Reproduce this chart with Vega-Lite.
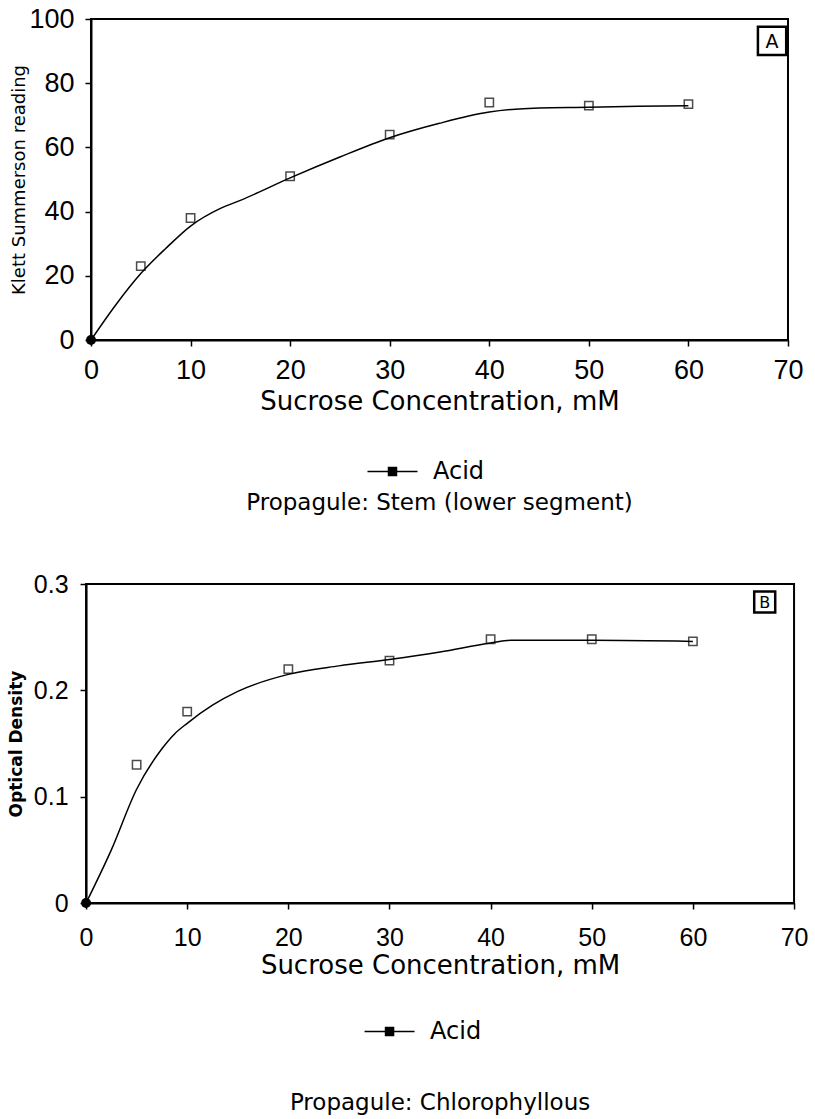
{
  "$schema": "https://vega.github.io/schema/vega-lite/v6.json",
  "background": "white",
  "padding": {"left": 6, "top": 4, "right": 2, "bottom": 2},
  "datasets": {
    "ptsA": [
      {"conc": 0, "reading": 0}, {"conc": 5, "reading": 23}, {"conc": 10, "reading": 38},
      {"conc": 20, "reading": 51}, {"conc": 30, "reading": 64}, {"conc": 40, "reading": 74},
      {"conc": 50, "reading": 73}, {"conc": 60, "reading": 73.5}
    ],
    "fitA": [
      {"conc": 0, "reading": 0, "series": "Acid"}, {"conc": 2.5, "reading": 11, "series": "Acid"},
      {"conc": 5, "reading": 20.7, "series": "Acid"}, {"conc": 7.5, "reading": 28.5, "series": "Acid"},
      {"conc": 10, "reading": 35.5, "series": "Acid"}, {"conc": 13, "reading": 41, "series": "Acid"},
      {"conc": 15, "reading": 43.5, "series": "Acid"}, {"conc": 20, "reading": 50.5, "series": "Acid"},
      {"conc": 25, "reading": 57, "series": "Acid"}, {"conc": 30, "reading": 63, "series": "Acid"},
      {"conc": 35, "reading": 67.5, "series": "Acid"}, {"conc": 40, "reading": 71, "series": "Acid"},
      {"conc": 45, "reading": 72.3, "series": "Acid"}, {"conc": 50, "reading": 72.5, "series": "Acid"},
      {"conc": 55, "reading": 72.8, "series": "Acid"}, {"conc": 60, "reading": 73, "series": "Acid"}
    ],
    "ptsB": [
      {"conc": 0, "od": 0}, {"conc": 5, "od": 0.13}, {"conc": 10, "od": 0.18},
      {"conc": 20, "od": 0.22}, {"conc": 30, "od": 0.228}, {"conc": 40, "od": 0.248},
      {"conc": 50, "od": 0.248}, {"conc": 60, "od": 0.246}
    ],
    "fitB": [
      {"conc": 0, "od": 0, "series": "Acid"}, {"conc": 2.5, "od": 0.05, "series": "Acid"},
      {"conc": 5, "od": 0.107, "series": "Acid"}, {"conc": 7.5, "od": 0.145, "series": "Acid"},
      {"conc": 8.75, "od": 0.159, "series": "Acid"}, {"conc": 10, "od": 0.169, "series": "Acid"},
      {"conc": 12.5, "od": 0.186, "series": "Acid"}, {"conc": 15, "od": 0.199, "series": "Acid"},
      {"conc": 20, "od": 0.215, "series": "Acid"}, {"conc": 25, "od": 0.223, "series": "Acid"},
      {"conc": 30, "od": 0.229, "series": "Acid"}, {"conc": 35, "od": 0.236, "series": "Acid"},
      {"conc": 40, "od": 0.2445, "series": "Acid"}, {"conc": 42, "od": 0.247, "series": "Acid"},
      {"conc": 50, "od": 0.247, "series": "Acid"}, {"conc": 60, "od": 0.246, "series": "Acid"}
    ],
    "tagA": [{"panel": "A"}],
    "tagB": [{"panel": "B"}]
  },
  "config": {
    "view": {"stroke": "black", "strokeWidth": 2},
    "font": "DejaVu Sans",
    "axis": {
      "grid": false,
      "domainColor": "black", "domainWidth": 2,
      "tickColor": "black", "tickWidth": 1.5, "tickSize": 6,
      "labelFont": "Liberation Sans", "labelColor": "black",
      "titleFont": "DejaVu Sans", "titleColor": "black", "titleFontWeight": "normal"
    },
    "legend": {
      "title": null,
      "labelFont": "DejaVu Sans", "labelFontSize": 24, "labelColor": "black",
      "symbolType": "M-1.5,0H1.5M-0.24,-0.24H0.24V0.24H-0.24Z",
      "symbolSize": 1111, "symbolStrokeWidth": 1.5, "labelOffset": 23,
      "symbolStrokeColor": "black", "symbolFillColor": "black"
    },
    "title": {"font": "DejaVu Sans", "fontSize": 23, "fontWeight": "normal", "color": "black"}
  },
  "resolve": {"scale": {"color": "independent"}, "legend": {"color": "independent"}},
  "center": true,
  "spacing": 55,
  "vconcat": [
    {
      "width": 697, "height": 321,
      "title": {"text": "Propagule: Stem (lower segment)", "orient": "bottom", "offset": 8},
      "layer": [
        {
          "data": {"name": "fitA"},
          "mark": {"type": "line", "interpolate": "monotone", "strokeWidth": 1.5},
          "encoding": {
            "x": {"field": "conc", "type": "quantitative", "scale": {"domain": [0, 70], "nice": false},
                  "axis": {"values": [0, 10, 20, 30, 40, 50, 60, 70], "title": "Sucrose Concentration, mM",
                           "labelFontSize": 27, "titleFontSize": 26, "labelPadding": 11, "titlePadding": 5, "labelFlush": false}},
            "y": {"field": "reading", "type": "quantitative", "scale": {"domain": [0, 100], "nice": false},
                  "axis": {"values": [0, 20, 40, 60, 80, 100], "title": "Klett Summerson reading",
                           "labelFontSize": 27, "titleFontSize": 18, "labelPadding": 11, "titlePadding": 0}},
            "color": {"field": "series", "type": "nominal", "scale": {"range": ["black"]},
                      "legend": {"orient": "none", "legendX": 284, "legendY": 435,
                                 "encode": {"symbols": {"update": {"fill": {"value": "black"}, "stroke": {"value": "black"}}}}}}
          }
        },
        {
          "data": {"name": "ptsA"},
          "transform": [{"filter": "datum.conc > 0"}],
          "mark": {"type": "point", "shape": "square", "filled": false, "color": "black", "size": 70, "strokeWidth": 1.5},
          "encoding": {
            "x": {"field": "conc", "type": "quantitative"},
            "y": {"field": "reading", "type": "quantitative"}
          }
        },
        {
          "data": {"name": "ptsA"},
          "transform": [{"filter": "datum.conc == 0"}],
          "mark": {"type": "point", "shape": "circle", "filled": true, "color": "black", "size": 100, "opacity": 1},
          "encoding": {
            "x": {"field": "conc", "type": "quantitative"},
            "y": {"field": "reading", "type": "quantitative"}
          }
        },
        {
          "data": {"name": "tagA"},
          "mark": {"type": "point", "shape": "square", "filled": true, "fill": "white", "stroke": "black", "strokeWidth": 2.5, "size": 800, "opacity": 1},
          "encoding": {"x": {"datum": 68.4}, "y": {"datum": 93.2}}
        },
        {
          "data": {"name": "tagA"},
          "mark": {"type": "text", "fontSize": 19, "fontWeight": 500, "font": "DejaVu Sans", "color": "black", "baseline": "middle", "align": "center", "dy": 1},
          "encoding": {"x": {"datum": 68.4}, "y": {"datum": 93.2}, "text": {"field": "panel"}}
        }
      ]
    },
    {
      "width": 708, "height": 319,
      "title": {"text": "Propagule: Chlorophyllous", "orient": "bottom", "offset": 48},
      "layer": [
        {
          "data": {"name": "fitB"},
          "mark": {"type": "line", "interpolate": "monotone", "strokeWidth": 1.5},
          "encoding": {
            "x": {"field": "conc", "type": "quantitative", "scale": {"domain": [0, 70], "nice": false},
                  "axis": {"values": [0, 10, 20, 30, 40, 50, 60, 70], "title": "Sucrose Concentration, mM",
                           "labelFontSize": 25, "titleFontSize": 26, "labelPadding": 16, "titlePadding": 2, "labelFlush": false}},
            "y": {"field": "od", "type": "quantitative", "scale": {"domain": [0, 0.3], "nice": false},
                  "axis": {"values": [0, 0.1, 0.2, 0.3], "format": "~g", "title": "Optical Density",
                           "labelFontSize": 25, "titleFontSize": 17, "titleFontWeight": "bold", "labelPadding": 12, "titlePadding": 8}},
            "color": {"field": "series", "type": "nominal", "scale": {"range": ["black"]},
                      "legend": {"orient": "none", "legendX": 286, "legendY": 430,
                                 "encode": {"symbols": {"update": {"fill": {"value": "black"}, "stroke": {"value": "black"}}}}}}
          }
        },
        {
          "data": {"name": "ptsB"},
          "transform": [{"filter": "datum.conc > 0"}],
          "mark": {"type": "point", "shape": "square", "filled": false, "color": "black", "size": 70, "strokeWidth": 1.5},
          "encoding": {
            "x": {"field": "conc", "type": "quantitative"},
            "y": {"field": "od", "type": "quantitative"}
          }
        },
        {
          "data": {"name": "ptsB"},
          "transform": [{"filter": "datum.conc == 0"}],
          "mark": {"type": "point", "shape": "circle", "filled": true, "color": "black", "size": 100, "opacity": 1},
          "encoding": {
            "x": {"field": "conc", "type": "quantitative"},
            "y": {"field": "od", "type": "quantitative"}
          }
        },
        {
          "data": {"name": "tagB"},
          "mark": {"type": "point", "shape": "square", "filled": true, "fill": "white", "stroke": "black", "strokeWidth": 2.5, "size": 441, "opacity": 1},
          "encoding": {"x": {"datum": 67.1}, "y": {"datum": 0.283}}
        },
        {
          "data": {"name": "tagB"},
          "mark": {"type": "text", "fontSize": 16, "fontWeight": 500, "font": "DejaVu Sans", "color": "black", "baseline": "middle", "align": "center", "dy": 1},
          "encoding": {"x": {"datum": 67.1}, "y": {"datum": 0.283}, "text": {"field": "panel"}}
        }
      ]
    }
  ]
}
